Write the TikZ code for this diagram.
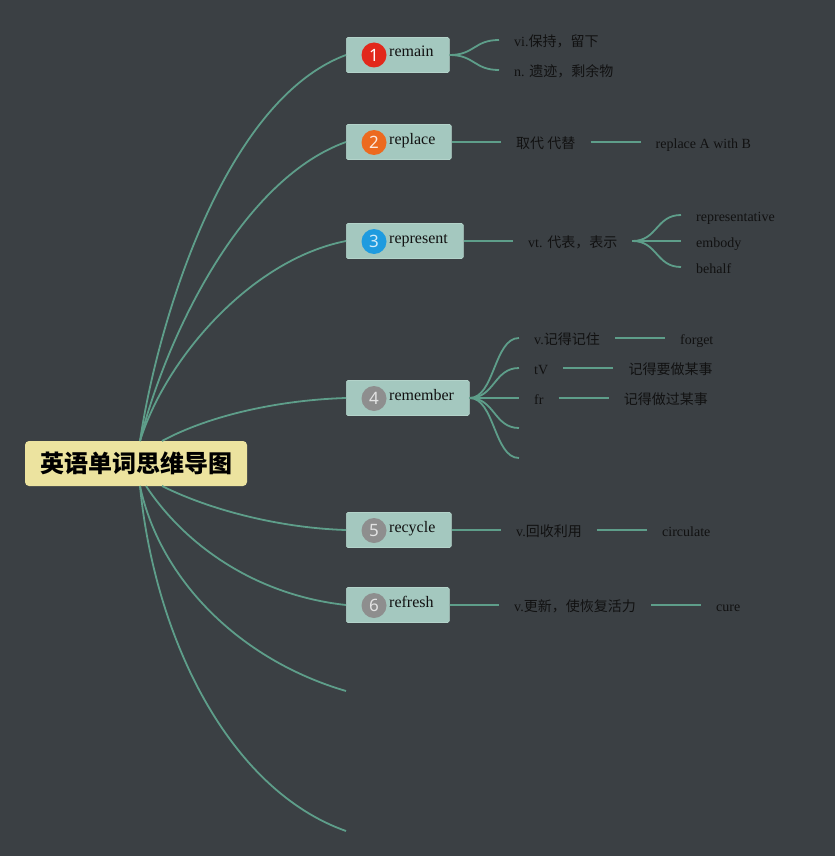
\documentclass[tikz,border=0pt]{standalone}
\usepackage{fontspec}
\setmainfont{Liberation Serif}
\newfontfamily\cjk{Noto Sans CJK SC}
\newfontfamily\numf{Noto Sans}
\newcommand\zhs[1]{{\cjk #1}}
\usetikzlibrary{positioning}
\definecolor{bgc}{HTML}{3B4044}
\definecolor{linec}{HTML}{5E9E8A}
\definecolor{boxf}{HTML}{A4C8BF}
\definecolor{boxd}{HTML}{B3D3CA}
\definecolor{cenf}{HTML}{ECE39F}
\definecolor{txt}{HTML}{111111}
\definecolor{c1}{HTML}{E2281B}
\definecolor{c2}{HTML}{EC6A1F}
\definecolor{c3}{HTML}{1E9BDF}
\definecolor{cg}{HTML}{8E8E8E}
\tikzset{
  conn/.style={draw=linec, line width=1.8pt},
  wbox/.style={rectangle, rounded corners=1.5pt, fill=boxf, draw=boxd, line width=0.6pt, minimum height=35pt, anchor=west, inner sep=0pt},
  numc/.style={circle, minimum size=25pt, inner sep=0pt, font=\numf\fontsize{17}{17}\selectfont},
  wlabel/.style={anchor=base west, inner sep=0pt, text=txt, font=\fontsize{16}{18}\selectfont},
  leaf/.style={anchor=west, inner xsep=15pt, inner ysep=0pt, text height=14pt, text depth=1pt, text=txt, font=\fontsize{14}{16}\selectfont},
  central/.style={rectangle, rounded corners=4pt, fill=cenf, minimum width=222pt, minimum height=45pt, inner sep=0pt, text=black, font=\cjk\bfseries\fontsize{24}{26}\selectfont},
}
\begin{document}
\begin{tikzpicture}[x=1pt,y=-1pt]
\fill[bgc] (0,0) rectangle (835,856);
\useasboundingbox (0,0) rectangle (835,856);

% central
\node[central] (c) at (136,463.5) {英语单词思维导图};
\coordinate (ct) at (140,441);
\coordinate (ct2) at (162,441);
\coordinate (cb) at (140,486);
\coordinate (cb2) at (162,486);
\coordinate (cb3) at (146,486);

% word boxes
\node[wbox, minimum width=103pt] (b1) at (346,55) {};
\node[wbox, minimum width=105pt] (b2) at (346,142) {};
\node[wbox, minimum width=117pt] (b3) at (346,241) {};
\node[wbox, minimum width=123pt] (b4) at (346,398) {};
\node[wbox, minimum width=105pt] (b5) at (346,530) {};
\node[wbox, minimum width=103pt] (b6) at (346,605) {};
\coordinate (e7) at (346,691);
\coordinate (e8) at (346,831);

\node[numc, fill=c1, text=white] (n1) at (374,55) {1};
\node[numc, fill=c2, text=white!85!c2] (n2) at (374,142.5) {2};
\node[numc, fill=c3, text=white!80!c3] (n3) at (374,241.5) {3};
\node[numc, fill=cg, text=white!75!cg] (n4) at (374,398.5) {4};
\node[numc, fill=cg, text=white!75!cg] (n5) at (374,530.5) {5};
\node[numc, fill=cg, text=white!75!cg] (n6) at (374,605.5) {6};

\node[wlabel] (l1) at (389,57) {remain};
\node[wlabel] (l2) at (389,144) {replace};
\node[wlabel] (l3) at (389,243) {represent};
\node[wlabel] (l4) at (389,400) {remember};
\node[wlabel] (l5) at (389,532) {recycle};
\node[wlabel] (l6) at (389,607) {refresh};

% main branches
\draw[conn] (ct) .. controls (158,320) and (225,100) .. (b1.west);
\draw[conn] (ct) .. controls (165,340) and (240,180) .. (b2.west);
\draw[conn] (ct) .. controls (165,360) and (250,260) .. (b3.west);
\draw[conn] (ct2) .. controls (210,415) and (280,400) .. (b4.west);
\draw[conn] (cb2) .. controls (210,510) and (280,528) .. (b5.west);
\draw[conn] (cb3) .. controls (185,545) and (255,595) .. (b6.west);
\draw[conn] (cb) .. controls (160,580) and (240,660) .. (e7);
\draw[conn] (cb) .. controls (155,640) and (230,790) .. (e8);

% remain
\node[leaf] (t11) at (499,40) {vi.\zhs{保持，留下}};
\node[leaf] (t12) at (499,70) {n. \zhs{遗迹，剩余物}};
\draw[conn] (b1.east) .. controls +(25,0) and +(-25,0) .. (t11.west);
\draw[conn] (b1.east) .. controls +(25,0) and +(-25,0) .. (t12.west);

% replace
\node[leaf] (t21) at (501,142) {\zhs{取代 代替}};
\node[leaf, right=50pt of t21] (t22) {replace A with B};
\draw[conn] (b2.east) -- (t21.west);
\draw[conn] (t21.east) -- (t22.west);

% represent
\node[leaf] (t31) at (513,241) {vt. \zhs{代表，表示}};
\node[leaf] (t32) at (681,215) {representative};
\node[leaf] (t33) at (681,241) {embody};
\node[leaf] (t34) at (681,267) {behalf};
\draw[conn] (b3.east) -- (t31.west);
\draw[conn] (t31.east) .. controls +(25,0) and +(-25,0) .. (t32.west);
\draw[conn] (t31.east) -- (t33.west);
\draw[conn] (t31.east) .. controls +(25,0) and +(-25,0) .. (t34.west);

% remember
\node[leaf] (t41) at (519,338) {v.\zhs{记得记住}};
\node[leaf] (t42) at (519,368) {tV};
\node[leaf] (t43) at (519,398) {fr};
\coordinate (t44) at (519,428);
\coordinate (t45) at (519,458);
\node[leaf, right=50pt of t41] (u41) {forget};
\node[leaf, right=50pt of t42] (u42) {\zhs{记得要做某事}};
\node[leaf, right=50pt of t43] (u43) {\zhs{记得做过某事}};
\draw[conn] (b4.east) .. controls +(25,0) and +(-25,0) .. (t41.west);
\draw[conn] (b4.east) .. controls +(25,0) and +(-25,0) .. (t42.west);
\draw[conn] (b4.east) -- (t43.west);
\draw[conn] (b4.east) .. controls +(25,0) and +(-25,0) .. (t44);
\draw[conn] (b4.east) .. controls +(25,0) and +(-25,0) .. (t45);
\draw[conn] (t41.east) -- (u41.west);
\draw[conn] (t42.east) -- (u42.west);
\draw[conn] (t43.east) -- (u43.west);

% recycle
\node[leaf] (t51) at (501,530) {v.\zhs{回收利用}};
\node[leaf, right=50pt of t51] (u51) {circulate};
\draw[conn] (b5.east) -- (t51.west);
\draw[conn] (t51.east) -- (u51.west);

% refresh
\node[leaf] (t61) at (499,605) {v.\zhs{更新，使恢复活力}};
\node[leaf, right=50pt of t61] (u61) {cure};
\draw[conn] (b6.east) -- (t61.west);
\draw[conn] (t61.east) -- (u61.west);
\end{tikzpicture}
\end{document}
